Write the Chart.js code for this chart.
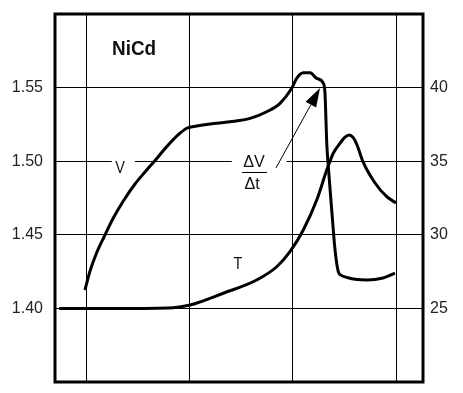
<!DOCTYPE html>
<html lang="en">
<head>
    <meta charset="UTF-8">
    <title>NiCd charge curve</title>
    <script src="https://cdn.jsdelivr.net/npm/chart.js"></script>
    <style>
        body { margin: 0; background: #fff; }
    </style>
</head>
<body>
    <canvas id="chart" width="463" height="393"></canvas>

    <script>
        // time axis: gridlines at 0, 10, 20, 30
        const timeTicks = [0, 10, 20, 30];
        const voltTicks = [1.35, 1.40, 1.45, 1.50, 1.55, 1.60];
        const tempTicks = [20, 25, 30, 35, 40, 45];

        // cell voltage (left axis)
        const voltX = [-0.1, 0.39, 1.02, 1.74, 2.64, 3.61, 4.74, 5.71, 6.68, 7.81, 9.09, 9.74, 10.71, 12.0, 13.93, 15.87, 17.48, 18.77, 19.9, 20.38, 21.02, 21.67, 22.32, 22.96, 23.12, 23.29, 23.44, 23.77, 24.09, 24.41, 24.67, 25.25, 26.22, 27.18, 28.73, 29.89];
        const voltY = [1.4125, 1.4254, 1.4376, 1.4485, 1.4614, 1.473, 1.4845, 1.4927, 1.5005, 1.5099, 1.519, 1.5224, 1.5239, 1.5253, 1.5268, 1.5291, 1.5336, 1.5393, 1.5495, 1.5563, 1.5601, 1.5601, 1.5563, 1.5529, 1.5461, 1.5122, 1.4963, 1.4668, 1.4397, 1.4248, 1.4226, 1.4210, 1.4196, 1.4193, 1.4207, 1.424];

        // cell temperature (right axis)
        const tempX = [-2.6, 3.29, 8.41, 10.06, 13.28, 16.51, 18.45, 19.73, 21.02, 22.32, 23.29, 23.92, 24.57, 25.06, 25.44, 25.85, 26.22, 26.8, 27.96, 29.12, 29.99];
        const tempY = [25.0, 25.0, 25.05, 25.23, 26.03, 26.93, 27.83, 28.85, 30.33, 32.36, 34.4, 35.54, 36.22, 36.63, 36.78, 36.6, 36.1, 34.95, 33.52, 32.57, 32.16];

        const FONT = '"Liberation Sans", Arial, sans-serif';

        const toPoints = (xs, ys) => xs.map((x, i) => ({ x: x, y: ys[i] }));

        // squeezed text, the original lettering is a condensed face
        function narrowText(ctx, text, x, y, squeeze) {
            ctx.save();
            ctx.translate(x, y);
            ctx.scale(squeeze, 1);
            ctx.fillText(text, 0, 0);
            ctx.restore();
        }

        // labels, gaps in the gridline, arrow and frame
        const annotations = {
            id: 'annotations',
            beforeDatasetsDraw(chart) {
                const { ctx } = chart;
                const x = chart.scales.x, y = chart.scales.y;
                ctx.save();
                ctx.fillStyle = '#fff';
                // gaps in the 1.50 line behind the labels
                [[2.5, 4.73], [14.1, 19.4]].forEach(g => {
                    const a = x.getPixelForValue(g[0]), b = x.getPixelForValue(g[1]);
                    ctx.fillRect(a, y.getPixelForValue(1.50) - 2, b - a, 4);
                });
                ctx.restore();
            },
            afterDatasetsDraw(chart) {
                const { ctx, chartArea } = chart;
                const x = chart.scales.x, y = chart.scales.y;
                const px = v => x.getPixelForValue(v), py = v => y.getPixelForValue(v);
                ctx.save();
                ctx.fillStyle = '#111';
                ctx.strokeStyle = '#000';
                ctx.textBaseline = 'middle';

                ctx.font = 'bold 21px ' + FONT;
                ctx.textAlign = 'left';
                narrowText(ctx, 'NiCd', px(2.52), py(1.5759), 0.9);

                ctx.font = '17px ' + FONT;
                ctx.textAlign = 'center';
                narrowText(ctx, 'V', px(3.29), py(1.4954), 0.85);
                narrowText(ctx, 'T', px(14.70), py(1.4302), 0.85);
                narrowText(ctx, '\u0394V', px(16.25), py(1.4995), 0.95);
                narrowText(ctx, '\u0394t', px(16.06), py(1.4845), 0.95);

                ctx.lineWidth = 1;
                ctx.beginPath();
                ctx.moveTo(px(15.09), Math.round(py(1.4927)) + 0.5);
                ctx.lineTo(px(17.51), Math.round(py(1.4927)) + 0.5);
                ctx.stroke();

                // arrow pointing at the voltage peak
                const sx = px(18.38), sy = py(1.4954), tx = px(22.64), ty = py(1.5497);
                const len = Math.hypot(tx - sx, ty - sy);
                const ux = (tx - sx) / len, uy = (ty - sy) / len;
                const hl = 19, hw = 6;
                const bx = tx - ux * hl, by = ty - uy * hl;
                ctx.beginPath();
                ctx.moveTo(sx, sy);
                ctx.lineTo(bx, by);
                ctx.stroke();
                ctx.beginPath();
                ctx.moveTo(tx, ty);
                ctx.lineTo(bx - uy * hw, by + ux * hw);
                ctx.lineTo(bx + uy * hw, by - ux * hw);
                ctx.closePath();
                ctx.fillStyle = '#000';
                ctx.fill();

                // heavy frame
                ctx.lineWidth = 3;
                ctx.strokeRect(chartArea.left, chartArea.top, chartArea.right - chartArea.left, chartArea.bottom - chartArea.top);
                ctx.restore();
            }
        };

        const noPad = s => { s.paddingTop = 0; s.paddingBottom = 0; };

        new Chart(document.getElementById('chart').getContext('2d'), {
            type: 'line',
            data: {
                datasets: [
                    {
                        label: 'V',
                        data: toPoints(voltX, voltY),
                        yAxisID: 'y',
                        borderColor: '#000',
                        borderWidth: 3,
                        pointRadius: 0,
                        cubicInterpolationMode: 'monotone',
                        fill: false
                    },
                    {
                        label: 'T',
                        data: toPoints(tempX, tempY),
                        yAxisID: 'y1',
                        borderColor: '#000',
                        borderWidth: 3,
                        pointRadius: 0,
                        cubicInterpolationMode: 'monotone',
                        fill: false
                    }
                ]
            },
            options: {
                responsive: false,
                animation: false,
                layout: { padding: { top: 14, bottom: 11, left: 0, right: 0 } },
                plugins: {
                    legend: { display: false },
                    tooltip: { enabled: false }
                },
                scales: {
                    x: {
                        type: 'linear',
                        min: -3,
                        max: 32.6,
                        afterBuildTicks: s => { s.ticks = timeTicks.map(v => ({ value: v })); },
                        afterFit: s => { s.height = 0; s.paddingLeft = 0; s.paddingRight = 0; },
                        ticks: { display: false },
                        border: { display: false },
                        grid: { color: '#000', lineWidth: 1, drawTicks: false }
                    },
                    y: {
                        position: 'left',
                        min: 1.35,
                        max: 1.60,
                        afterBuildTicks: s => { s.ticks = voltTicks.map(v => ({ value: v })); },
                        afterFit: s => { s.width = 55; noPad(s); },
                        border: { display: false },
                        grid: { color: '#000', lineWidth: 1, drawTicks: false },
                        ticks: {
                            padding: 12,
                            color: '#222',
                            font: { family: FONT, size: 16 },
                            callback: v => (v <= 1.351 || v >= 1.599) ? '' : v.toFixed(2)
                        }
                    },
                    y1: {
                        position: 'right',
                        min: 20,
                        max: 45,
                        afterBuildTicks: s => { s.ticks = tempTicks.map(v => ({ value: v })); },
                        afterFit: s => { s.width = 40; noPad(s); },
                        border: { display: false },
                        grid: { display: false, drawTicks: false },
                        ticks: {
                            padding: 7,
                            color: '#222',
                            font: { family: FONT, size: 16 },
                            callback: v => (v === 20 || v === 45) ? '' : String(v)
                        }
                    }
                }
            },
            plugins: [annotations]
        });
    </script>
</body>
</html>
